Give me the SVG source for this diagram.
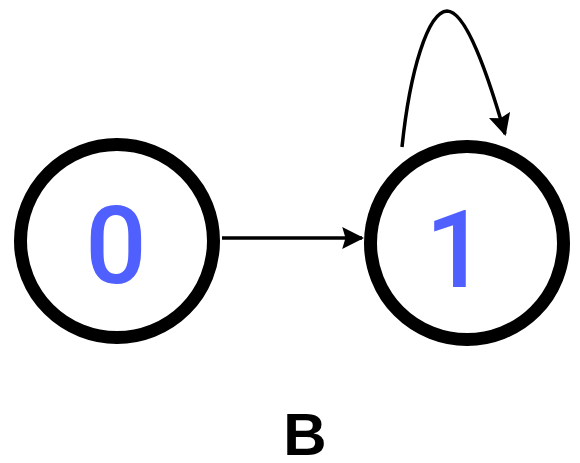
<svg xmlns="http://www.w3.org/2000/svg" width="580" height="463" viewBox="0 0 580 463">
  <defs>
    <marker id="arrow" viewBox="0 0 10 10" refX="9" refY="5" markerWidth="22" markerHeight="22" markerUnits="userSpaceOnUse" orient="auto">
      <path d="M0,0 L10,5 L0,10 L1.5,5 z" fill="#000"/>
    </marker>
    <style>
      .state { fill: #fff; stroke: #000; stroke-width: 13; }
      .label { font-family: Roboto, "Liberation Sans", Arial, sans-serif; font-size: 108px; font-weight: 500; fill: #5060ff; text-anchor: middle; }
      .edge { fill: none; stroke: #000; stroke-width: 3.5; }
      .title { font-family: "Liberation Sans", Arial, sans-serif; font-size: 60px; font-weight: bold; fill: #000; text-anchor: middle; }
    </style>
  </defs>
  <rect width="580" height="463" fill="#fff"/>
  <g id="connectors">
    <path class="edge" d="M222,238 L362,238" marker-end="url(#arrow)"/>
    <path class="edge" d="M402,147 C410,70 428,12 447,11 C466,11 488,75 505,134" marker-end="url(#arrow)"/>
  </g>
  <g id="node-0">
    <circle class="state" cx="117" cy="241" r="96.5"/>
    <text class="label" x="116" y="283">0</text>
  </g>
  <g id="node-1">
    <circle class="state" cx="467" cy="243" r="96.5"/>
    <text class="label" x="456" y="287">1</text>
  </g>
  <text class="title" x="305" y="455">B</text>
</svg>
